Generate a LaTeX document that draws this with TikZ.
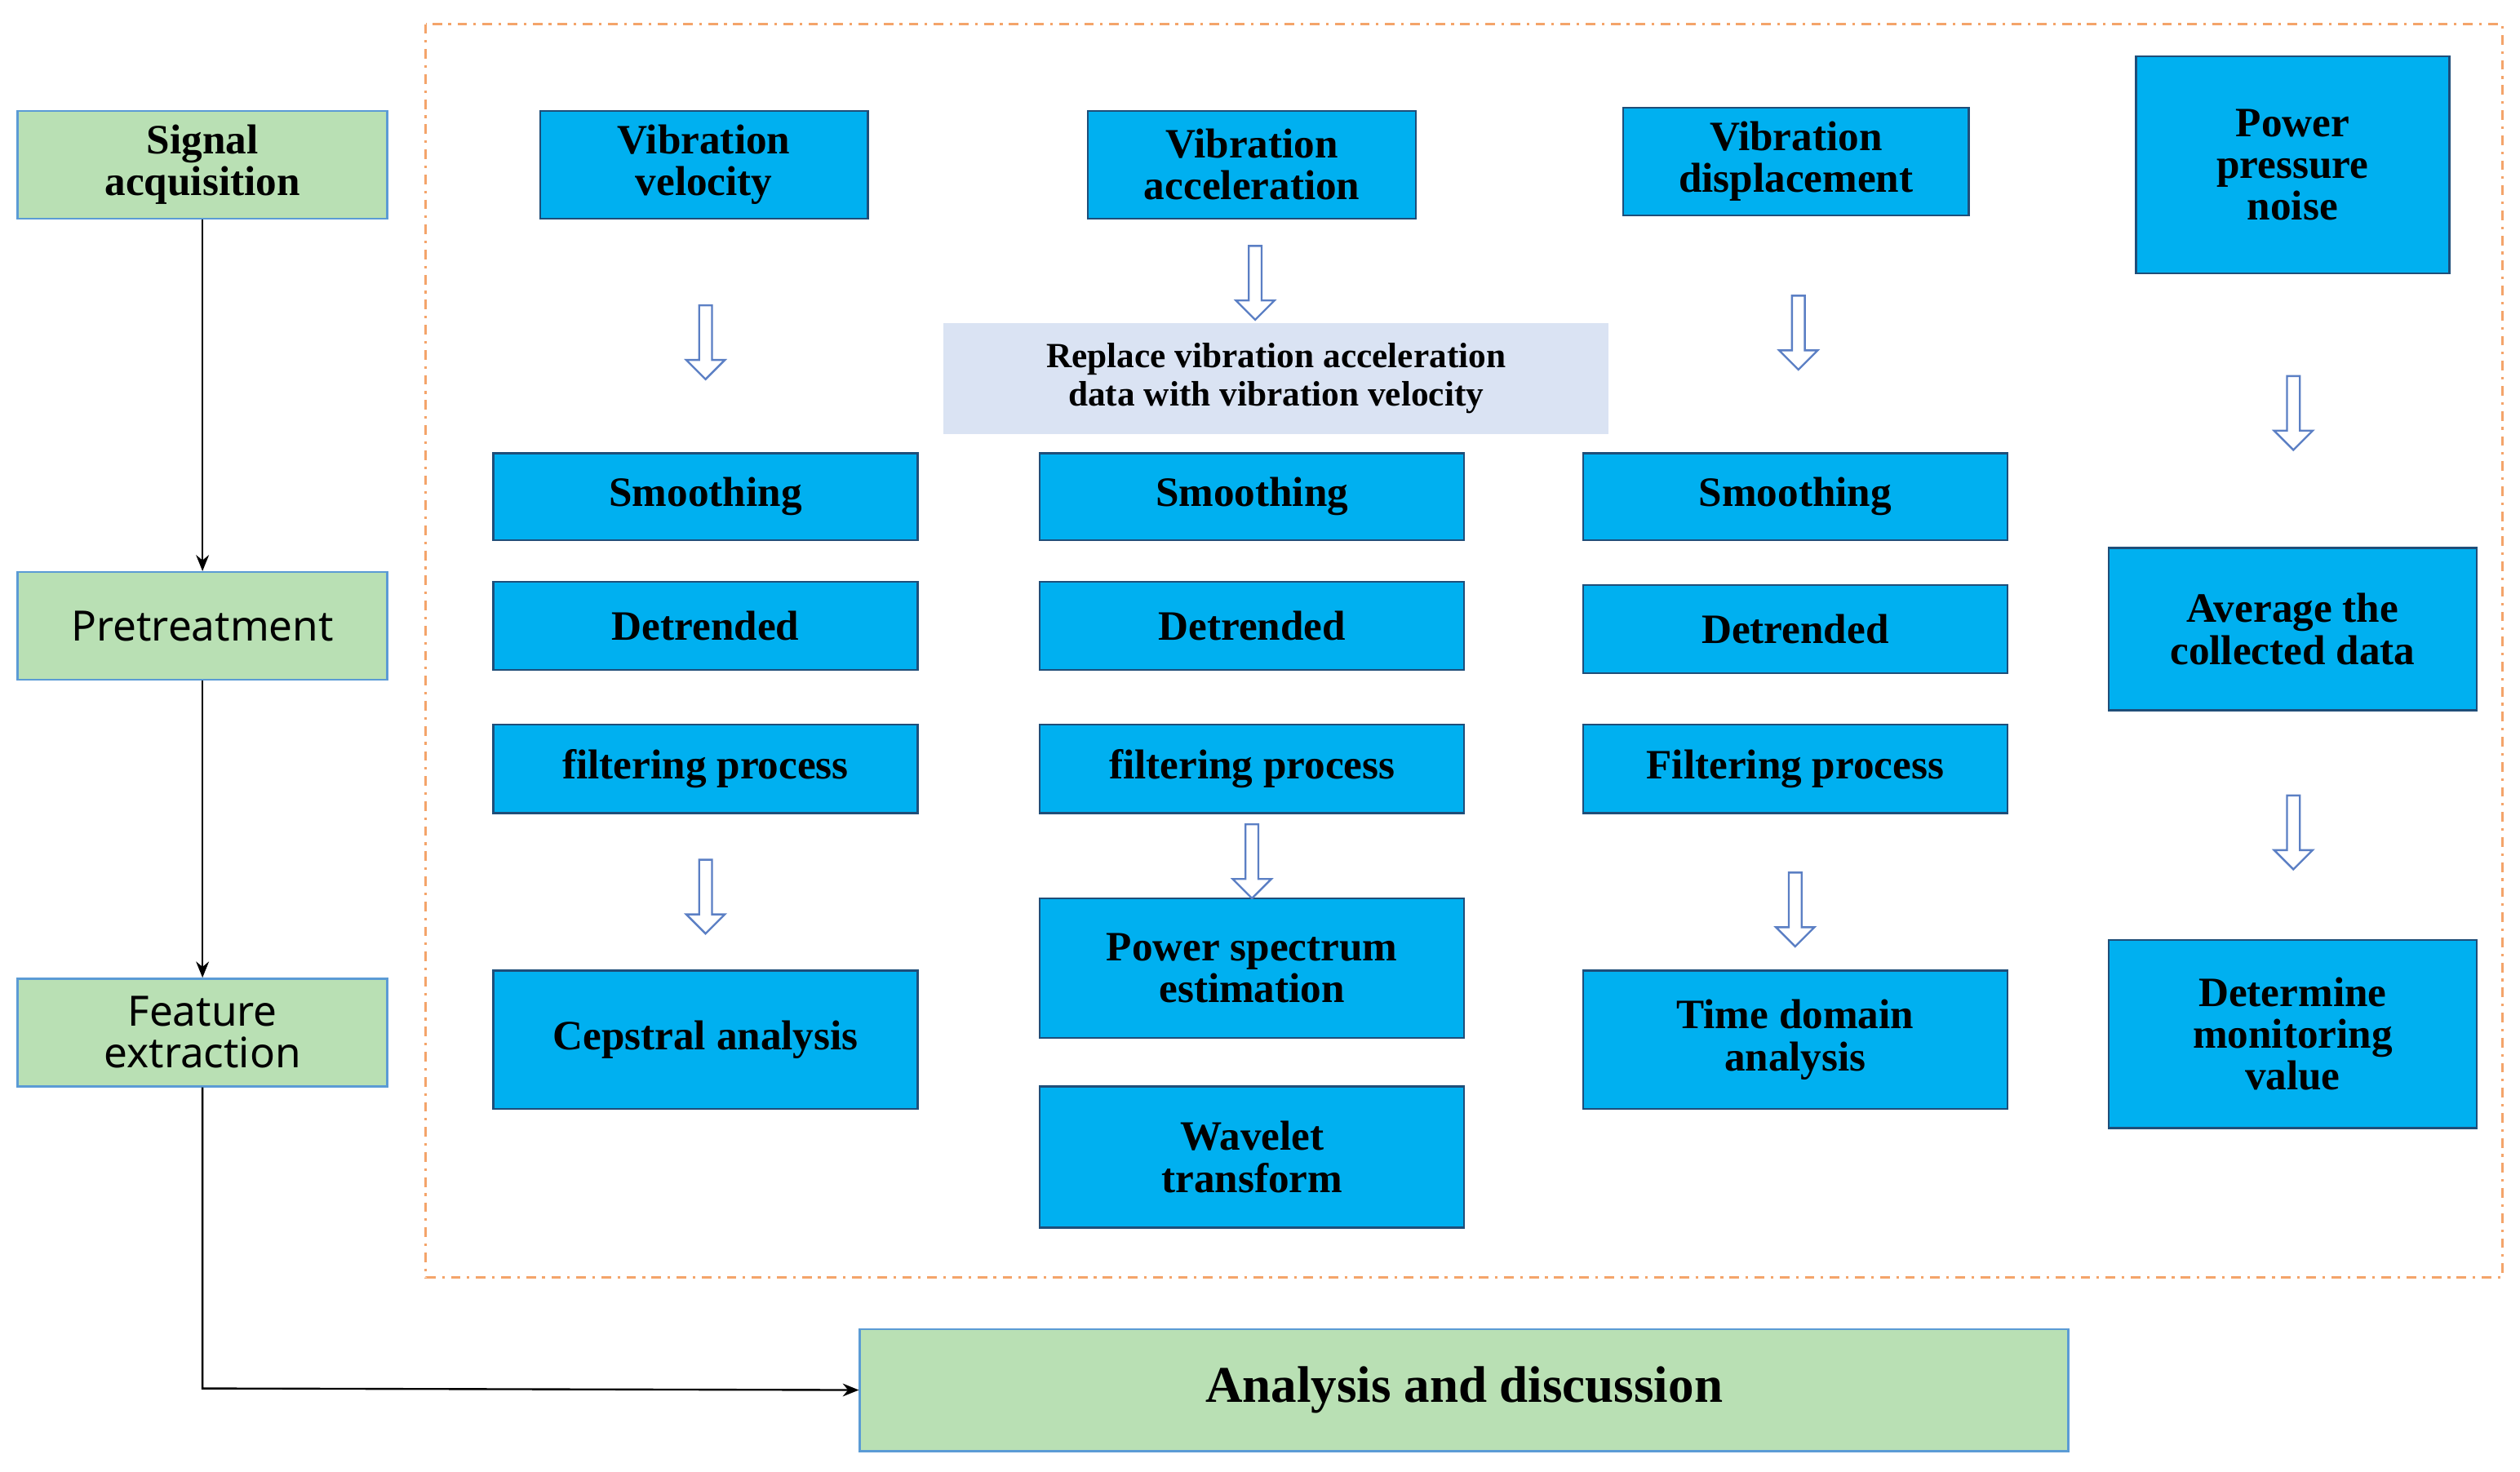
\documentclass[tikz,border=0pt]{standalone}
\usepackage{fontspec}
\setmainfont{Liberation Serif}
\newfontfamily\sansb{Noto Sans}
\usetikzlibrary{shapes.arrows,arrows.meta}
\definecolor{gfill}{HTML}{B9E0B4}
\definecolor{gline}{HTML}{5B9BD5}
\definecolor{bfill}{HTML}{00B0F0}
\definecolor{bline}{HTML}{1F4E79}
\definecolor{lfill}{HTML}{DAE3F3}
\definecolor{ocol}{HTML}{F4A46A}
\definecolor{acol}{HTML}{5B7FC4}
\newcommand\bx[7]{\node[#2, minimum width={(#5-#3)*0.5pt}, minimum height={(#6-#4)*0.5pt}] (#1) at ({(#3+#5)/2},{(#4+#6)/2}) {#7};}
\begin{document}
\begin{tikzpicture}[x=0.5pt,y=-0.5pt,
  base/.style={inner sep=0pt, align=center, font=\bfseries\fontsize{13}{15}\selectfont},
  gbox/.style={base, draw=gline, fill=gfill, line width=0.6pt},
  bbox/.style={base, draw=bline, fill=bfill, line width=0.6pt},
  lbox/.style={base, fill=lfill, font=\bfseries\fontsize{11}{13}\selectfont},
  harrow/.style={single arrow, draw=acol, fill=white, line width=0.6pt, shape border rotate=270,
     minimum height=23pt, minimum width=12pt, single arrow head extend=3pt, single arrow tip angle=90, inner sep=1.2pt},
  conn/.style={-{Stealth[length=5pt,width=4pt]}, line width=0.6pt}]
\useasboundingbox (0,0) rectangle (1568,916);
\draw[ocol, line width=0.8pt, dash dot] (265,15) rectangle (1557,795);
% green
\bx{sig}{gbox}{11}{69}{241}{136}{Signal\\[-2pt]acquisition}
\bx{pre}{gbox, font=\sansb\bfseries\fontsize{13}{15}\selectfont}{11}{356}{241}{423}{Pretreatment}
\bx{fea}{gbox, font=\sansb\bfseries\fontsize{13}{15}\selectfont}{11}{609}{241}{676}{Feature\\[-2pt]extraction}
\bx{ana}{gbox, font=\bfseries\fontsize{16}{19}\selectfont}{535}{827}{1287}{903}{Analysis and discussion}
\draw[conn] (sig) -- (pre);
\draw[conn] (pre) -- (fea);
\coordinate (corner) at (126,864);
\draw[conn] (fea.south) -- (corner) -- (ana.west);
% column 1
\bx{vv}{bbox}{336}{69}{540}{136}{Vibration\\[-2pt]velocity}
\bx{s1}{bbox}{307}{282}{571}{336}{Smoothing}
\bx{d1}{bbox}{307}{362}{571}{417}{Detrended}
\bx{f1}{bbox}{307}{451}{571}{506}{filtering process}
\bx{c1}{bbox}{307}{604}{571}{690}{Cepstral analysis}
% column 2
\bx{va}{bbox}{677}{69}{881}{136}{Vibration\\[-2pt]acceleration}
\bx{rep}{lbox}{587}{201}{1001}{270}{Replace vibration acceleration\\[-1pt]data with vibration velocity}
\bx{s2}{bbox}{647}{282}{911}{336}{Smoothing}
\bx{d2}{bbox}{647}{362}{911}{417}{Detrended}
\bx{f2}{bbox}{647}{451}{911}{506}{filtering process}
\bx{p2}{bbox}{647}{559}{911}{646}{Power spectrum\\[-2pt]estimation}
\bx{w2}{bbox}{647}{676}{911}{764}{Wavelet\\[-2pt]transform}
% column 3
\bx{vd}{bbox}{1010}{67}{1225}{134}{Vibration\\[-2pt]displacement}
\bx{s3}{bbox}{985}{282}{1249}{336}{Smoothing}
\bx{d3}{bbox}{985}{364}{1249}{419}{Detrended}
\bx{f3}{bbox}{985}{451}{1249}{506}{Filtering process}
\bx{t3}{bbox}{985}{604}{1249}{690}{Time domain\\[-2pt]analysis}
% column 4
\bx{pp}{bbox}{1329}{35}{1524}{170}{Power\\[-2pt]pressure\\[-2pt]noise}
\bx{av}{bbox}{1312}{341}{1541}{442}{Average the\\[-2pt]collected data}
\bx{dm}{bbox}{1312}{585}{1541}{702}{Determine\\[-2pt]monitoring\\[-2pt]value}
% hollow arrows
\node[harrow] (a1) at (439,211) {};
\node[harrow] (a2) at (439,556) {};
\node[harrow] (a3) at (781,174) {};
\node[harrow] (a4) at (779,534) {};
\node[harrow] (a5) at (1119,205) {};
\node[harrow] (a6) at (1117,564) {};
\node[harrow] (a7) at (1427,255) {};
\node[harrow] (a8) at (1427,516) {};
\end{tikzpicture}
\end{document}
